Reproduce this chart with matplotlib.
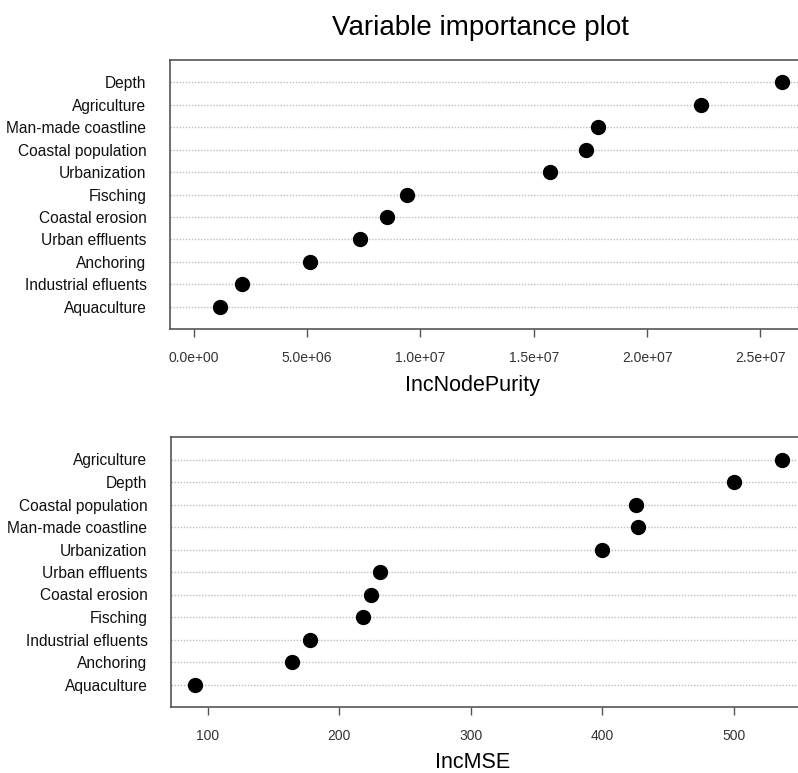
import numpy as np
import matplotlib.pyplot as plt

plt.rcParams['font.family'] = ['Liberation Sans', 'DejaVu Sans']

# IncNodePurity panel (top row first)
purity_labels = ["Depth", "Agriculture", "Man-made coastline", "Coastal population",
                 "Urbanization", "Fisching", "Coastal erosion", "Urban effluents",
                 "Anchoring", "Industrial efluents", "Aquaculture"]
purity_values = [2.597e7, 2.239e7, 1.783e7, 1.730e7, 1.571e7, 9.42e6, 8.54e6,
                 7.35e6, 5.13e6, 2.12e6, 1.15e6]
purity_ticks = [0, 5e6, 1e7, 1.5e7, 2e7, 2.5e7]
purity_ticklabels = ["0.0e+00", "5.0e+06", "1.0e+07", "1.5e+07", "2.0e+07", "2.5e+07"]

# IncMSE panel (top row first)
mse_labels = ["Agriculture", "Depth", "Coastal population", "Man-made coastline",
              "Urbanization", "Urban effluents", "Coastal erosion", "Fisching",
              "Industrial efluents", "Anchoring", "Aquaculture"]
mse_values = [537, 500, 426, 427, 400, 231, 224, 218, 178, 164, 90]
mse_ticks = [100, 200, 300, 400, 500]
mse_ticklabels = ["100", "200", "300", "400", "500"]

W, H = 798, 773
fig = plt.figure(figsize=(W / 100, H / 100), dpi=100)


def dot_panel(rect, labels, values, xmin, ticks, ticklabels, xlabel, label_y):
    ax = fig.add_axes(rect)
    n = len(values)
    ypos = np.arange(n, 0, -1)
    # R-style 4% extension of the range
    lo, hi = xmin, max(values)
    pad = 0.04 * (hi - lo)
    ax.set_xlim(lo - pad, hi + pad)
    ax.set_ylim(0, n + 1)
    for y in ypos:
        ax.axhline(y, color="#bdbdbd", linestyle=(0, (1, 1.2)), linewidth=1.0, zorder=1)
    ax.plot(values, ypos, "o", color="black", markersize=10, zorder=3)
    ax.set_yticks(ypos)
    ax.set_yticklabels(labels, fontsize=11.2, color="#111111")
    ax.tick_params(axis="y", length=0, pad=17)
    ax.set_xticks(ticks)
    ax.set_xticklabels(ticklabels, fontsize=10, color="#333333")
    ax.tick_params(axis="x", length=6, width=1, color="#555555", pad=10)
    for s in ax.spines.values():
        s.set_color("#555555")
        s.set_linewidth(1.2)
    ax.set_xlabel(xlabel, fontsize=15.5)
    ax.xaxis.label.set_va("center")
    ax.xaxis.set_label_coords(0.475, label_y)
    return ax


dot_panel([170 / W, (H - 329) / H, 636 / W, 269 / H], purity_labels, purity_values,
          0, purity_ticks, purity_ticklabels, "IncNodePurity", -56 / 269)
dot_panel([171 / W, (H - 707) / H, 635 / W, 270 / H], mse_labels, mse_values,
          min(mse_values), mse_ticks, mse_ticklabels, "IncMSE", -55 / 270)

fig.text(480 / W, 1 - 28 / H, "Variable importance plot", ha="center", va="center",
         fontsize=20)

fig.savefig("out.png", dpi=100)
